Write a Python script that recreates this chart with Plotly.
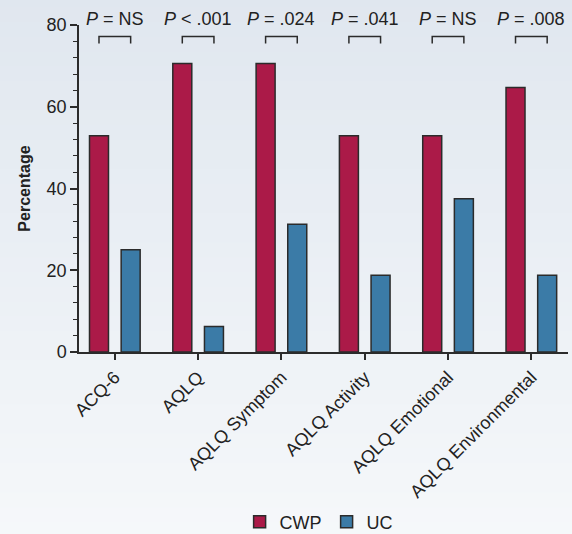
import plotly.graph_objects as go

categories = ["ACQ-6", "AQLQ", "AQLQ Symptom", "AQLQ Activity", "AQLQ Emotional", "AQLQ Environmental"]
cwp_values = [52.9, 70.6, 70.6, 52.9, 52.9, 64.7]
uc_values = [25.0, 6.25, 31.25, 18.75, 37.5, 18.75]
p_labels = ["<i>P</i> = NS", "<i>P</i> < .001", "<i>P</i> = .024", "<i>P</i> = .041", "<i>P</i> = NS", "<i>P</i> = .008"]
y_ticks = [0, 20, 40, 60, 80]

FONT = "Liberation Sans, Arial, sans-serif"
EDGE = "#2b2b2b"
BAR_OFFSET = 0.19  # half-slot in category units

fig = go.Figure()
fig.add_trace(go.Bar(x=list(range(len(categories))), y=cwp_values, name="CWP",
                     marker=dict(color="#AB1A48", line=dict(color=EDGE, width=1.5))))
fig.add_trace(go.Bar(x=list(range(len(categories))), y=uc_values, name="UC",
                     marker=dict(color="#3B7BA7", line=dict(color=EDGE, width=1.5))))

shapes = []
# background gradient
n = 40
top = (224, 231, 239)
bot = (247, 249, 251)
for i in range(n):
    t = i / (n - 1)
    c = tuple(round(top[k] + (bot[k] - top[k]) * t) for k in range(3))
    y1 = 1.1 - i * (1.8 / n)
    y0 = y1 - 1.8 / n - 0.005
    shapes.append(dict(type="rect", xref="paper", yref="paper", x0=-0.3, x1=1.3,
                       y0=y0, y1=y1, fillcolor="rgb(%d,%d,%d)" % c,
                       line=dict(width=0), layer="below"))

annotations = []
for i, lab in enumerate(p_labels):
    xa = i - BAR_OFFSET
    xb = i + BAR_OFFSET
    shapes.append(dict(type="path", xref="x", yref="y",
                       path=f"M {xa},75.5 L {xa},77.2 L {xb},77.2 L {xb},75.5",
                       line=dict(color=EDGE, width=1.5)))
    annotations.append(dict(x=i, y=1.019, xref="x", yref="paper", text=lab, showarrow=False,
                            font=dict(family=FONT, size=18, color="#222"),
                            xanchor="center", yanchor="middle"))

fig.update_layout(
    width=572, height=534,
    margin=dict(l=79, r=4, t=25, b=182, autoexpand=False),
    paper_bgcolor="#eef1f5",
    plot_bgcolor="rgba(0,0,0,0)",
    barmode="group", bargap=0.24, bargroupgap=0.4,
    font=dict(family=FONT, size=17, color="#222"),
    showlegend=True,
    legend=dict(orientation="h", x=0.49, xanchor="center", y=-0.52, yanchor="middle",
                font=dict(size=18), bgcolor="rgba(0,0,0,0)", itemwidth=30),
    shapes=shapes,
    annotations=annotations,
    xaxis=dict(tickmode="array", tickvals=list(range(len(categories))), ticktext=categories,
               tickangle=-45, range=[-0.43, 5.44], showline=True, linecolor=EDGE, linewidth=1.5,
               ticks="outside", ticklen=6, tickcolor=EDGE, tickwidth=1.5, showgrid=False,
               zeroline=False, tickfont=dict(size=18), automargin=False),
    yaxis=dict(range=[0, 80], tickvals=y_ticks, showline=True, linecolor=EDGE, linewidth=1.5,
               ticks="outside", ticklen=7, tickcolor=EDGE, tickwidth=1.5, showgrid=False,
               zeroline=False, tickfont=dict(size=18), automargin=False,
               minor=dict(dtick=4, ticks="outside", ticklen=4, tickcolor=EDGE, tickwidth=1.2),
               title=dict(text="<b>Percentage</b>", font=dict(size=16), standoff=12)),
)

fig.write_html("out.html", config={"displayModeBar": False},
               post_script="document.body.style.margin='0';")
